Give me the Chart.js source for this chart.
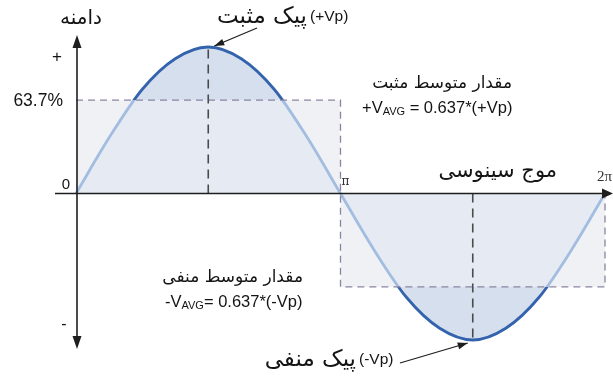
<!DOCTYPE html>
<html>
<head>
<meta charset="utf-8">
<script src="https://cdn.jsdelivr.net/npm/chart.js@4.4.1/dist/chart.umd.min.js"></script>
<style>
  html, body { margin: 0; padding: 0; background: #fff; }
  #wave { display: block; }
</style>
</head>
<body>
<canvas id="wave" width="613" height="377"></canvas>
<script>

// phase in multiples of pi, amplitude as a fraction of Vp
const phasePi = [0, 0.125, 0.25, 0.375, 0.5, 0.625, 0.75, 0.875, 1,
                 1.125, 1.25, 1.375, 1.5, 1.625, 1.75, 1.875, 2];
const amplitude = [0, 0.38, 0.71, 0.92, 1, 0.92, 0.71, 0.38, 0,
                   -0.38, -0.71, -0.92, -1, -0.92, -0.71, -0.38, 0];

const avgLevel = 0.637;
const peakPhase = [0.5, 1.5];
const peakValue = [1, -1];

const yTickLabels = ["+", "63.7%", "0", "-"];
const xTickLabels = ["π", "2π"];

const darkBlue = '#3463ad';
const lightBlue = '#a3bde0';
const FA = '"DejaVu Sans", sans-serif';
const LAT = '"Liberation Sans", Arial, sans-serif';

const wavePoints = phasePi.map((p, i) => ({ x: p, y: amplitude[i] }));

// split the colour at the average level: dark above it, light below it
function levelGradient(chart, outer, inner){

    const area = chart.chartArea;
    if(!area) return inner;

    const y = chart.scales.y;
    const top = y.getPixelForValue(1);
    const bottom = y.getPixelForValue(-1);
    const g = chart.ctx.createLinearGradient(0, top, 0, bottom);
    const f = (1 - avgLevel) / 2;

    g.addColorStop(0, outer);
    g.addColorStop(f, outer);
    g.addColorStop(f, inner);
    g.addColorStop(1 - f, inner);
    g.addColorStop(1 - f, outer);
    g.addColorStop(1, outer);

    return g;
}

function arrowHead(ctx, x1, y1, x2, y2, len, half){

    const a = Math.atan2(y2 - y1, x2 - x1);

    ctx.beginPath();
    ctx.moveTo(x2, y2);
    ctx.lineTo(x2 - len*Math.cos(a) + half*Math.sin(a), y2 - len*Math.sin(a) - half*Math.cos(a));
    ctx.lineTo(x2 - len*Math.cos(a) - half*Math.sin(a), y2 - len*Math.sin(a) + half*Math.cos(a));
    ctx.closePath();
    ctx.fill();
}

function arrow(ctx, x1, y1, x2, y2, len, half){

    ctx.beginPath();
    ctx.moveTo(x1, y1);
    ctx.lineTo(x2, y2);
    ctx.stroke();

    arrowHead(ctx, x1, y1, x2, y2, len, half);
}

// text with a smaller "AVG" subscript after the V
function avgFormula(ctx, x, y, sign, rest){

    ctx.textAlign = 'left';
    ctx.font = '16.5px ' + LAT;
    ctx.fillText(sign + 'V', x, y);
    x += ctx.measureText(sign + 'V').width;

    ctx.font = '11px ' + LAT;
    ctx.fillText('AVG', x, y + 2);
    x += ctx.measureText('AVG').width;

    ctx.font = '16.5px ' + LAT;
    ctx.fillText(rest, x, y);
}

const annotations = {

    id: 'annotations',

    afterDraw(chart){

        const ctx = chart.ctx;
        const X = v => chart.scales.x.getPixelForValue(v);
        const Y = v => chart.scales.y.getPixelForValue(v);
        const x0 = X(0) + 1;
        const y0 = Y(0);

        ctx.save();

        // axes
        ctx.strokeStyle = '#1e1e1e';
        ctx.fillStyle = '#1e1e1e';
        ctx.lineWidth = 1.6;

        ctx.beginPath();
        ctx.moveTo(x0, 44);
        ctx.lineTo(x0, 340);
        ctx.stroke();
        arrowHead(ctx, x0, 60, x0, 35, 13, 4.5);
        arrowHead(ctx, x0, 330, x0, 349, 13, 4.5);

        ctx.beginPath();
        ctx.moveTo(55, y0);
        ctx.lineTo(603, y0);
        ctx.stroke();
        arrowHead(ctx, 590, y0, 613, y0, 11, 5);

        // arrows to the peaks
        ctx.lineWidth = 1.3;
        arrow(ctx, 257, 28, X(peakPhase[0]) + 6, Y(peakValue[0]) - 1, 10, 3.5);
        arrow(ctx, 400, 363, X(peakPhase[1]) - 5, Y(peakValue[1]) + 3, 10, 3.5);

        ctx.fillStyle = '#141414';
        ctx.textBaseline = 'alphabetic';

        // y axis labels
        ctx.textAlign = 'center';
        ctx.font = '17px ' + LAT;
        ctx.fillText(yTickLabels[0], 57, 62);
        ctx.textAlign = 'right';
        ctx.font = '17.5px ' + LAT;
        ctx.fillText(yTickLabels[1], 63, Y(avgLevel) + 6);
        ctx.font = '15px ' + LAT;
        ctx.fillText(yTickLabels[2], 70, y0 - 5);
        ctx.textAlign = 'center';
        ctx.font = '16px ' + LAT;
        ctx.fillText(yTickLabels[3], 64, 329);

        // x axis labels
        ctx.fillStyle = '#333';
        ctx.textAlign = 'left';
        ctx.font = '12px "DejaVu Serif", serif';
        ctx.fillText(xTickLabels[0], X(1) + 1, y0 - 9);
        ctx.textAlign = 'right';
        ctx.font = '15px "Liberation Serif", serif';
        ctx.fillText(xTickLabels[1], 612, y0 - 13);

        ctx.fillStyle = '#141414';

        // titles
        ctx.textAlign = 'center';
        ctx.font = '20px ' + FA;
        ctx.fillText('دامنه', 81, 24);

        ctx.textAlign = 'right';
        ctx.font = '23px ' + FA;
        ctx.fillText('پیک مثبت', 307, 23);
        ctx.fillText('پیک منفی', 356, 366);
        ctx.textAlign = 'left';
        ctx.font = '15.5px ' + LAT;
        ctx.fillText('(+Vp)', 310, 21);
        ctx.fillText('(-Vp)', 359, 364);

        ctx.textAlign = 'right';
        ctx.font = '21px ' + FA;
        ctx.fillText('موج سینوسی', 557, 177);

        ctx.font = '17px ' + FA;
        ctx.fillText('مقدار متوسط مثبت', 512, 88);
        ctx.fillText('مقدار متوسط منفی', 303, 282);

        avgFormula(ctx, 362, 113, '+', ' = 0.637*(+Vp)');
        avgFormula(ctx, 165, 307, '-', '= 0.637*(-Vp)');

        ctx.restore();
    }
};

new Chart(document.getElementById('wave'), {

    type: 'line',

    data: {
        datasets: [
            {
                // average-value rectangles
                data: [{x: 0, y: avgLevel}, {x: 1, y: avgLevel}],
                fill: 'origin',
                backgroundColor: '#f0f1f5',
                borderWidth: 0,
                pointRadius: 0,
                order: 4
            },
            {
                data: [{x: 1, y: -avgLevel}, {x: 2, y: -avgLevel}],
                fill: 'origin',
                backgroundColor: '#f0f1f5',
                borderWidth: 0,
                pointRadius: 0,
                order: 4
            },
            {
                // sine wave
                data: wavePoints,
                cubicInterpolationMode: 'monotone',
                fill: 'origin',
                backgroundColor: c => levelGradient(c.chart, '#d5dfee', '#e5eaf3'),
                borderColor: c => levelGradient(c.chart, darkBlue, lightBlue),
                borderWidth: 2.8,
                pointRadius: 0,
                clip: 8,
                order: 3
            },
            {
                // average level outline
                data: [{x: 0, y: avgLevel}, {x: 1, y: avgLevel}, {x: 1, y: -avgLevel},
                       {x: 2, y: -avgLevel}, {x: 2, y: 0}],
                fill: false,
                borderColor: '#8a84a3',
                borderDash: [7, 5],
                borderWidth: 1.3,
                pointRadius: 0,
                clip: 4,
                order: 2
            },
            {
                // peak markers
                data: [{x: peakPhase[0], y: 0}, {x: peakPhase[0], y: peakValue[0]}, {x: 1, y: null},
                       {x: peakPhase[1], y: 0}, {x: peakPhase[1], y: peakValue[1]}],
                fill: false,
                spanGaps: false,
                borderColor: '#4a4a4a',
                borderDash: [9, 6],
                borderWidth: 1.6,
                pointRadius: 0,
                order: 1
            }
        ]
    },

    plugins: [annotations],

    options: {
        responsive: false,
        animation: false,
        layout: {
            padding: {left: 76, right: 8, top: 47, bottom: 37}
        },
        plugins: {
            legend: {display: false},
            tooltip: {enabled: false}
        },
        scales: {
            x: {type: 'linear', min: 0, max: 2, display: false},
            y: {min: -1, max: 1, display: false}
        }
    }
});
</script>
</body>
</html>
